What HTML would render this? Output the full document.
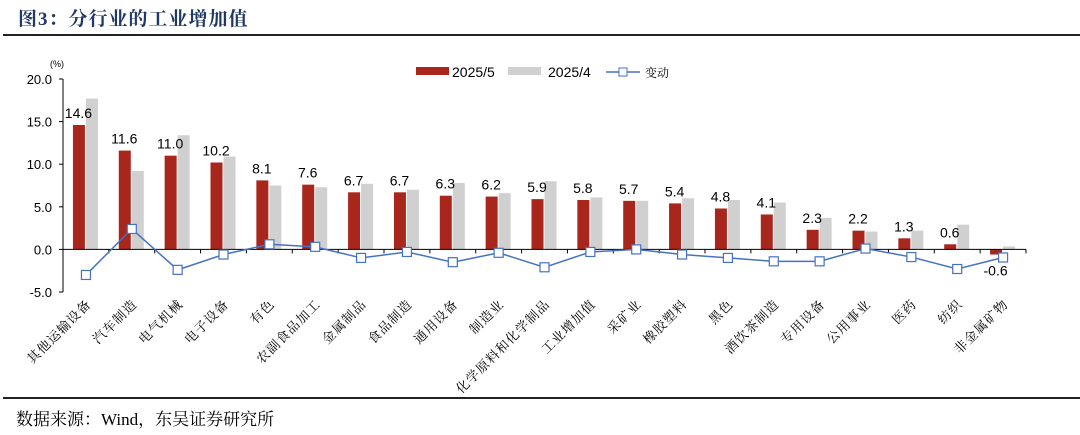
<!DOCTYPE html>
<html><head><meta charset="utf-8">
<style>
body{margin:0;width:1080px;height:435px;background:#fff;overflow:hidden;font-family:"Liberation Sans","Noto Sans CJK SC",sans-serif;}
#title{position:absolute;left:18px;top:4px;font-size:19px;font-weight:bold;color:#1f3864;font-family:"Liberation Serif","Noto Serif CJK SC",serif;letter-spacing:1px;}
#tline{position:absolute;left:3px;top:34px;width:1077px;height:2px;background:#222;}
#bline{position:absolute;left:3px;top:397px;width:1077px;height:2px;background:#222;}
#src{position:absolute;left:16px;top:405px;font-size:17px;font-family:"Liberation Serif","Noto Serif CJK SC",serif;color:#000;}
svg{position:absolute;left:0;top:0;}
</style></head><body>
<div id="title">图3：分行业的工业增加值</div>
<div id="tline"></div>
<svg id="chart" width="1080" height="435"></svg>
<div id="bline"></div>
<div id="src">数据来源：Wind，东吴证券研究所</div>
<script>
const categories=["其他运输设备","汽车制造","电气机械","电子设备","有色","农副食品加工","金属制品","食品制造","通用设备","制造业","化学原料和化学制品","工业增加值","采矿业","橡胶塑料","黑色","酒饮茶制造","专用设备","公用事业","医药","纺织","非金属矿物"];
const may=[14.6,11.6,11.0,10.2,8.1,7.6,6.7,6.7,6.3,6.2,5.9,5.8,5.7,5.4,4.8,4.1,2.3,2.2,1.3,0.6,-0.6];
const apr=[17.7,9.2,13.4,10.9,7.5,7.3,7.7,7.0,7.8,6.6,8.0,6.1,5.7,6.0,5.8,5.5,3.7,2.1,2.2,2.9,0.35];
const change=[-3.0,2.4,-2.4,-0.6,0.6,0.3,-1.0,-0.3,-1.5,-0.4,-2.1,-0.3,0.0,-0.6,-1.0,-1.4,-1.4,0.1,-0.9,-2.3,-0.95];
const yTicks=[20,15,10,5,0,-5];
const NS="http://www.w3.org/2000/svg";
const svg=document.getElementById('chart');
const x0=63,x1=1026,yTop=79,yBot=292,vMax=20,vMin=-5;
const y=v=>yTop+(vMax-v)/(vMax-vMin)*(yBot-yTop);
const bw=(x1-x0)/categories.length;
const cx=i=>x0+bw*(i+0.5);
function mk(t,a){const e=document.createElementNS(NS,t);for(const k in a)e.setAttribute(k,a[k]);svg.appendChild(e);return e;}
let ax=mk('line',{x1:x0,y1:yTop,x2:x0,y2:yBot,stroke:'#000','stroke-width':1});


yTicks.forEach(v=>{
 let t=mk('line',{x1:x0-4,y1:y(v),x2:x0,y2:y(v),stroke:'#000'});
 
 
 let l=mk('text',{x:x0-11,y:y(v)+5,'text-anchor':'end','font-size':13,fill:'#000'});
 l.textContent=v.toFixed(1);
 
 
});
let u=mk('text',{x:x0-13,y:67,'font-size':9,fill:'#000'});u.textContent='(%)';


const w=13;
categories.forEach((c,i)=>{
 const m=may[i],a=apr[i];
 let r=mk('rect',{x:cx(i)-w,y:Math.min(y(m),y(0)),width:w-1,height:Math.abs(y(m)-y(0)),fill:'#a8261b'});
 
 
 let g=mk('rect',{x:cx(i),y:Math.min(y(a),y(0)),width:w-1,height:Math.abs(y(a)-y(0)),fill:'#d0d0d0'});
 
 
 let vl=mk('text',{x:cx(i)-w/2-1,y:m>=0?y(m)-7:y(0)+26,'text-anchor':'middle','font-size':14,fill:'#000'});
 vl.textContent=m.toFixed(1);
 
 
 let cl=mk('text',{x:cx(i)+6,y:305,'text-anchor':'end','font-size':13,'letter-spacing':1,fill:'#000','font-family':'"Liberation Serif","Noto Serif CJK SC",serif',transform:`rotate(-45 ${cx(i)+6} 305)`});
 cl.textContent=c;
 
 
});
let xa=mk('line',{x1:x0,y1:y(0),x2:x1,y2:y(0),stroke:'#000','stroke-width':1});


for(let i=0;i<=categories.length;i++){
 let t=mk('line',{x1:x0+bw*i,y1:y(0),x2:x0+bw*i,y2:y(0)+4,stroke:'#000'});
 
 
}
let pl=mk('polyline',{points:change.map((v,i)=>cx(i)+','+y(v)).join(' '),fill:'none',stroke:'#4472c4','stroke-width':1.5});


change.forEach((v,i)=>{
 let s=mk('rect',{x:cx(i)-4.5,y:y(v)-4.5,width:9,height:9,fill:'#fff',stroke:'#4472c4','stroke-width':1.2});
 
 
});
let lg=[['rect',{x:416,y:67,width:33,height:8,fill:'#a8261b'}],['rect',{x:508,y:67,width:33,height:8,fill:'#d0d0d0'}]];
lg.forEach(([t,a])=>{let e=mk(t,a);});
let t1=mk('text',{x:452,y:77,'font-size':14});t1.textContent='2025/5';


let t2=mk('text',{x:548,y:77,'font-size':14});t2.textContent='2025/4';


let ll=mk('line',{x1:606,y1:72,x2:640,y2:72,stroke:'#4472c4','stroke-width':1.5});


let lm=mk('rect',{x:619,y:68,width:8,height:8,fill:'#fff',stroke:'#4472c4'});


let t3=mk('text',{x:645,y:77,'font-size':12,'font-family':'"Liberation Serif","Noto Serif CJK SC",serif'});t3.textContent='变动';


</script>
</body></html>
